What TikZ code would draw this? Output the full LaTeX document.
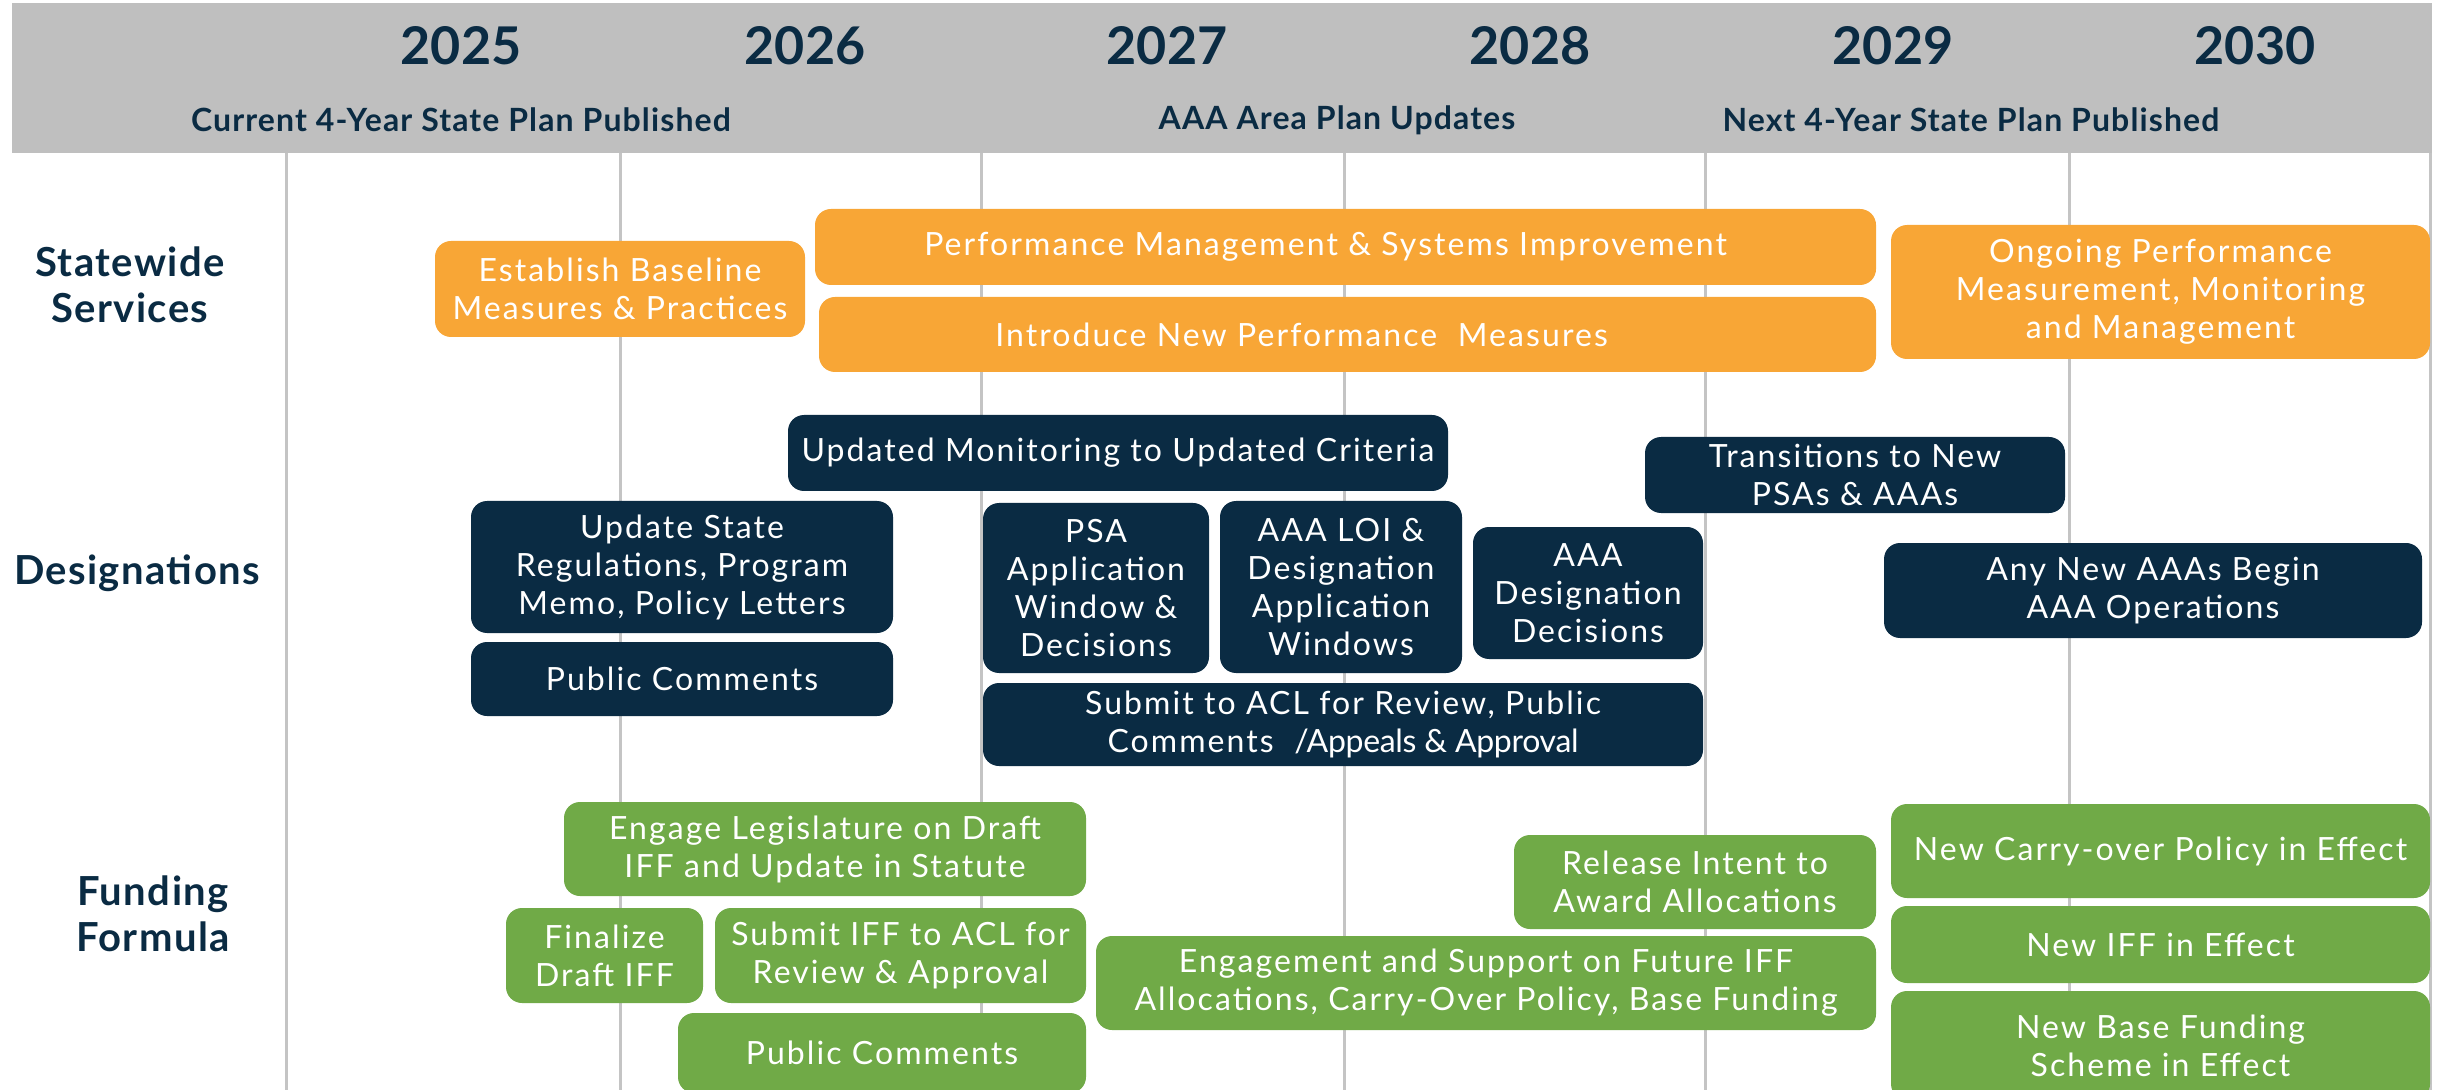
\documentclass[tikz,border=0pt]{standalone}
\usepackage{fontspec}
\setmainfont{Lato}
\newfontfamily\boxfont{Lato}[LetterSpace=6.5]
\newfontfamily\headfont{Lato}[LetterSpace=3.5]
\newfontfamily\yearfont{Lato}

\definecolor{navy}{HTML}{0A2B43}
\definecolor{planorange}{HTML}{F8A636}
\definecolor{plangreen}{HTML}{70AA47}
\definecolor{headgray}{HTML}{BFBFBF}
\definecolor{gridgray}{HTML}{C4C4C4}

\begin{document}
\begin{tikzpicture}[x=0.5pt,y=0.5pt,yscale=-1,
    task/.style={rounded corners=8pt, text=white, align=center, inner sep=2pt,
      font=\boxfont\fontsize{16}{19}\selectfont},
    statewide/.style={task, fill=planorange},
    designation/.style={task, fill=navy},
    funding/.style={task, fill=plangreen},
    boxsize/.style 2 args={minimum width=#1, minimum height=#2},
    yearlabel/.style={text=navy, font=\yearfont\bfseries\fontsize{26}{30}\selectfont},
    milestone/.style={text=navy, font=\headfont\bfseries\fontsize{16}{19}\selectfont},
    rowlabel/.style={text=navy, align=center, font=\headfont\bfseries\fontsize{20}{23}\selectfont},
    gridline/.style={gridgray, line width=1.5pt}]
\useasboundingbox (0,0) rectangle (2450,1090);

% header band
\fill[headgray] (12,3) rectangle (2432,153);
% year grid
\foreach \x in {286,620,981,1344,1705,2069,2430}
  \draw[gridline] (\x,153) -- (\x,1090);

% years
\node[yearlabel] (y2025) at (461,46) {2025};
\node[yearlabel] (y2026) at (805,46) {2026};
\node[yearlabel] (y2027) at (1167,46) {2027};
\node[yearlabel] (y2028) at (1530,46) {2028};
\node[yearlabel] (y2029) at (1893,46) {2029};
\node[yearlabel] (y2030) at (2255,46) {2030};

% milestones
\node[milestone] (currentplan) at (461,120) {Current 4-Year State Plan Published};
\node[milestone] (areaplan) at (1337,120) {AAA Area Plan Updates};
\node[milestone] (nextplan) at (1971,120) {Next 4-Year State Plan Published};

% row labels
\node[rowlabel] (rowstate) at (130,285) {Statewide\\Services};
\node[rowlabel] (rowdesig) at (137,573) {Designations};
\node[rowlabel] (rowfund) at (153,914) {Funding\\Formula};

% Statewide Services
\node[statewide, boxsize={185pt}{48pt}] (baseline) at (620,289) {Establish Baseline\\Measures \& Practices};
\node[statewide, boxsize={530.5pt}{38pt}] (perfmgmt) at (1345.5,247) {Performance Management \& Systems Improvement\hspace*{20pt}};
\node[statewide, boxsize={528.5pt}{37.5pt}] (newmeasures) at (1347.5,334.5) {Introduce New Performance\ \ Measures\hspace*{46pt}};
\node[statewide, boxsize={269.5pt}{67pt}] (ongoing) at (2160.5,292) {Ongoing Performance\\Measurement, Monitoring\\and Management};

% Designations
\node[designation, boxsize={330pt}{38pt}] (monitoring) at (1118,453) {Updated Monitoring to Updated Criteria};
\node[designation, boxsize={210pt}{38pt}] (transitions) at (1855,475) {Transitions to New\\PSAs \& AAAs};
\node[designation, boxsize={211pt}{66pt}] (regs) at (682,567) {Update State\\Regulations, Program\\Memo, Policy Letters};
\node[designation, boxsize={211pt}{37pt}] (despublic) at (682,679) {Public Comments};
\node[designation, boxsize={113pt}{85pt}] (psa) at (1096,588) {PSA\\Application\\Window \&\\Decisions};
\node[designation, boxsize={121pt}{86pt}] (loi) at (1341,587) {AAA LOI \&\\Designation\\Application\\Windows};
\node[designation, boxsize={115pt}{66pt}] (desdecisions) at (1588,593) {AAA\\Designation\\Decisions};
\node[designation, boxsize={269pt}{47.5pt}] (newaaas) at (2153,590.5) {Any New AAAs Begin\\AAA Operations};
\node[designation, boxsize={360pt}{41.5pt}] (aclreview) at (1343,724.5) {Submit to ACL for Review, Public\\Comments\ \ {\addfontfeature{LetterSpace=-1}/Appeals \& Approval}};

% Funding Formula
\node[funding, boxsize={261pt}{47pt}] (legislature) at (825,849) {Engage Legislature on Draft\\IFF and Update in Statute};
\node[funding, boxsize={98.5pt}{47.5pt}] (finalize) at (604.5,955.5) {Finalize\\Draft IFF};
\node[funding, boxsize={185.5pt}{47.5pt}] (iffacl) at (900.5,955.5) {Submit IFF to ACL for\\Review \& Approval};
\node[funding, boxsize={204pt}{40pt}] (fundpublic) at (882,1053) {Public Comments};
\node[funding, boxsize={181pt}{47pt}] (release) at (1695,882) {Release Intent to\\Award Allocations};
\node[funding, boxsize={390pt}{47pt}] (futureiff) at (1486,983) {Engagement and Support on Future IFF\\Allocations, Carry-Over Policy, Base Funding};
\node[funding, boxsize={269.5pt}{47pt}] (carryover) at (2160.5,851) {New Carry-over Policy in Effect};
\node[funding, boxsize={269.5pt}{38.5pt}] (newiff) at (2160.5,944.5) {New IFF in Effect};
\node[funding, boxsize={269.5pt}{54.5pt}] (basefunding) at (2160.5,1045.5) {New Base Funding\\Scheme in Effect};
\end{tikzpicture}
\end{document}
